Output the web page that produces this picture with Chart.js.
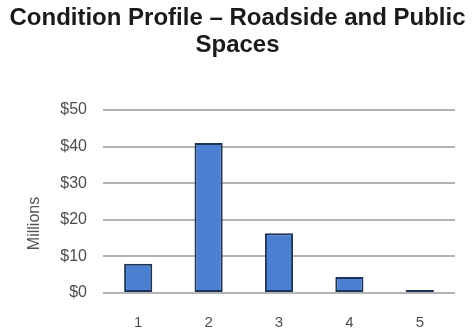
<!DOCTYPE html>
<html>
<head>
<meta charset="utf-8">
<script src="https://cdn.jsdelivr.net/npm/chart.js@4/dist/chart.umd.min.js"></script>
<style>
  html, body { margin: 0; padding: 0; background: #ffffff; }
  #wrap { width: 475px; height: 336px; }
</style>
</head>
<body>
<div id="wrap"><canvas id="c" width="475" height="336"></canvas></div>
<script>
// Condition ratings (1 = best, 5 = worst) and replacement value in $ millions
const categories = ['1', '2', '3', '4', '5'];
const valuesMillions = [8, 41, 16.3, 4.4, 0.8];
const yTicks = [0, 10, 20, 30, 40, 50];
const titleLines = ['Condition Profile \u2013 Roadside and Public', 'Spaces'];
const yAxisTitle = 'Millions';

const FONT = 'Liberation Sans, Arial, sans-serif';

// Heading centred on the whole canvas, plus the vertical value-axis caption
const captions = {
  id: 'captions',
  afterDraw(chart) {
    const ctx = chart.ctx;
    const area = chart.chartArea;
    ctx.save();
    ctx.font = 'bold 24px ' + FONT;
    ctx.fillStyle = '#1a1a1a';
    ctx.textAlign = 'center';
    ctx.textBaseline = 'middle';
    titleLines.forEach((line, i) => ctx.fillText(line, chart.width / 2, 18 + i * 27));
    ctx.restore();

    ctx.save();
    ctx.translate(35, area.top + (area.bottom - area.top) * 0.62);
    ctx.rotate(-Math.PI / 2);
    ctx.font = '16px ' + FONT;
    ctx.fillStyle = '#555555';
    ctx.textAlign = 'center';
    ctx.textBaseline = 'middle';
    ctx.fillText(yAxisTitle, 0, 0);
    ctx.restore();
  }
};

new Chart(document.getElementById('c'), {
  type: 'bar',
  data: {
    labels: categories,
    datasets: [{
      data: valuesMillions,
      backgroundColor: '#4a7fd1',
      borderColor: '#1d3357',
      borderWidth: 2,
      borderSkipped: false,
      categoryPercentage: 1,
      barPercentage: 0.4
    }]
  },
  plugins: [captions],
  options: {
    responsive: false,
    animation: false,
    layout: { padding: { left: 0, right: 20, top: 110, bottom: 0 } },
    plugins: {
      legend: { display: false },
      tooltip: { enabled: false },
      title: { display: false }
    },
    scales: {
      x: {
        afterFit: (scale) => { scale.height = 43; },
        grid: { display: false, drawTicks: false },
        border: { display: false },
        ticks: {
          color: '#4d4d4d',
          padding: 21,
          font: { family: FONT, size: 15 }
        }
      },
      y: {
        min: 0,
        max: 50,
        afterBuildTicks: (scale) => { scale.ticks = yTicks.map(v => ({ value: v })); },
        afterFit: (scale) => { scale.width = 103; },
        grid: { color: '#b3b3b3', lineWidth: 2, drawTicks: false },
        border: { display: false },
        ticks: {
          color: '#4d4d4d',
          padding: 16,
          font: { family: FONT, size: 16 },
          callback: (v) => '$' + v
        }
      }
    }
  }
});
</script>
</body>
</html>
